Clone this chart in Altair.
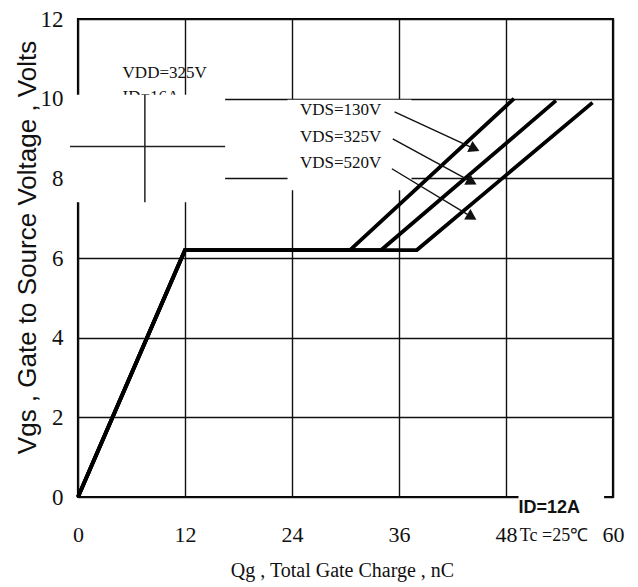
import altair as alt
import pandas as pd

# ---- data ----
series = ["VDS=130V", "VDS=325V", "VDS=520V"]
qg_pts = [[0, 12, 30.5, 48.9], [0, 12, 34.0, 53.6], [0, 12, 38.0, 57.7]]
vgs_pts = [[0, 6.2, 6.2, 10.0], [0, 6.2, 6.2, 9.95], [0, 6.2, 6.2, 9.9]]

x_ticks = [0, 12, 24, 36, 48, 60]
y_ticks = [0, 2, 4, 6, 8, 10, 12]

# annotation labels and arrows (data coordinates)
lab_text = ["VDS=130V", "VDS=325V", "VDS=520V"]
lab_x = [24.9, 24.9, 24.9]
lab_y = [9.72, 9.05, 8.39]
arr_x1 = [35.5, 35.3, 35.2]
arr_y1 = [9.67, 8.99, 8.24]
arr_x2 = [44.3, 44.0, 44.0]
arr_y2 = [8.76, 7.93, 7.05]
arr_ang = [115, 119, 121]

cond_text = ["VDD=325V", "ID=16A"]
cond_x = [5.0, 5.0]
cond_y = [10.65, 10.05]

# white masking boxes present in the picture
mask_x1 = [-0.9, 23.5, 49.4]
mask_x2 = [16.5, 37.4, 59.0]
mask_y1 = [7.4, 7.7, -0.6]
mask_y2 = [10.1, 9.97, 0.17]

cross_h = dict(x=-0.9, x2=16.5, y=8.8)
cross_v = dict(x=7.5, y=7.4, y2=10.1)

note_text = ["ID=12A", "Tc =25\u2103"]
note_x = [49.4, 49.55]
note_y = [-0.27, -0.97]

rows = []
for s, xs, ys in zip(series, qg_pts, vgs_pts):
    for i, (a, b) in enumerate(zip(xs, ys)):
        rows.append({"series": s, "i": i, "qg": a, "vgs": b})
df = pd.DataFrame(rows)

xscale = alt.Scale(domain=[0, 60], nice=False)
yscale = alt.Scale(domain=[0, 12], nice=False)

X = alt.X("qg:Q", scale=xscale,
          axis=alt.Axis(values=x_ticks, title="Qg , Total Gate Charge , nC",
                        grid=True, gridColor="#111", gridWidth=1.4, gridOpacity=1,
                        domain=False, ticks=False, labelFont="Liberation Serif",
                        labelFontSize=22, labelColor="#111", labelPadding=27,
                        titleFont="Liberation Serif", titleFontSize=20,
                        titleFontWeight="normal", titleColor="#111",
                        titleX=264, titleY=73, titleBaseline="middle",
                        labelFlush=False))
Y = alt.Y("vgs:Q", scale=yscale,
          axis=alt.Axis(values=y_ticks, title="Vgs , Gate to Source Voltage , Volts",
                        grid=True, gridColor="#111", gridWidth=1.4, gridOpacity=1,
                        domain=False, ticks=False, labelFont="Liberation Serif",
                        labelFontSize=23, labelColor="#111", labelPadding=15,
                        titleFont="Liberation Sans", titleFontSize=26,
                        titleFontWeight="normal", titleColor="#111",
                        titleAngle=270, titleX=-51, titleY=228,
                        titleBaseline="middle", titleAlign="center",
                        labelFlush=False))

base = alt.Chart(df).mark_line(color="black", strokeWidth=3.8, clip=False).encode(
    x=X, y=Y, detail="series:N", order="i:Q")

cond_df = pd.DataFrame({"t": cond_text, "x": cond_x, "y": cond_y})
cond = alt.Chart(cond_df).mark_text(align="left", baseline="middle",
                                    font="Liberation Serif", fontSize=17,
                                    color="#111").encode(
    x=alt.X("x:Q", scale=xscale), y=alt.Y("y:Q", scale=yscale), text="t:N")

mask_df = pd.DataFrame({"x": mask_x1, "x2": mask_x2, "y": mask_y1, "y2": mask_y2})
mask = alt.Chart(mask_df).mark_rect(color="white").encode(
    x=alt.X("x:Q", scale=xscale), x2="x2:Q",
    y=alt.Y("y:Q", scale=yscale), y2="y2:Q")

ch_df = pd.DataFrame([cross_h])
ch = alt.Chart(ch_df).mark_rule(color="#222", strokeWidth=1.5).encode(
    x=alt.X("x:Q", scale=xscale), x2="x2:Q", y=alt.Y("y:Q", scale=yscale))
cv_df = pd.DataFrame([cross_v])
cv = alt.Chart(cv_df).mark_rule(color="#222", strokeWidth=1.5).encode(
    x=alt.X("x:Q", scale=xscale), y=alt.Y("y:Q", scale=yscale), y2="y2:Q")

arr_df = pd.DataFrame({"x": arr_x1, "y": arr_y1, "x2": arr_x2, "y2": arr_y2,
                       "a": arr_ang})
arrows = alt.Chart(arr_df).mark_rule(color="#111", strokeWidth=1.4).encode(
    x=alt.X("x:Q", scale=xscale), x2="x2:Q",
    y=alt.Y("y:Q", scale=yscale), y2="y2:Q")
heads = alt.Chart(arr_df).mark_point(shape="triangle", filled=True, color="#111",
                                     size=150, opacity=1).encode(
    x=alt.X("x2:Q", scale=xscale), y=alt.Y("y2:Q", scale=yscale),
    angle=alt.Angle("a:Q", scale=None))

lab_df = pd.DataFrame({"t": lab_text, "x": lab_x, "y": lab_y})
labels = alt.Chart(lab_df).mark_text(align="left", baseline="middle",
                                     font="Liberation Serif", fontSize=17,
                                     color="#111").encode(
    x=alt.X("x:Q", scale=xscale), y=alt.Y("y:Q", scale=yscale), text="t:N")

note_df = pd.DataFrame({"t": note_text, "x": note_x, "y": note_y})
note1 = alt.Chart(note_df.iloc[[0]]).mark_text(
    align="left", baseline="middle", font="Liberation Sans", fontSize=18,
    fontWeight="bold", color="#111").encode(
    x=alt.X("x:Q", scale=xscale), y=alt.Y("y:Q", scale=yscale), text="t:N")
note2 = alt.Chart(note_df.iloc[[1]]).mark_text(
    align="left", baseline="middle", font="Liberation Serif", fontSize=18,
    color="#111").encode(
    x=alt.X("x:Q", scale=xscale), y=alt.Y("y:Q", scale=yscale), text="t:N")

chart = alt.layer(base, cond, mask, ch, cv, arrows, heads, labels, note1, note2).properties(
    width=535, height=478,
    autosize=alt.AutoSizeParams(type="none"),
    padding={"left": 70, "top": 11, "right": 17, "bottom": 88},
    background="white",
).configure_view(stroke="black", strokeWidth=2.2)

chart.save("out.html", embed_options={"renderer": "svg", "actions": False})
